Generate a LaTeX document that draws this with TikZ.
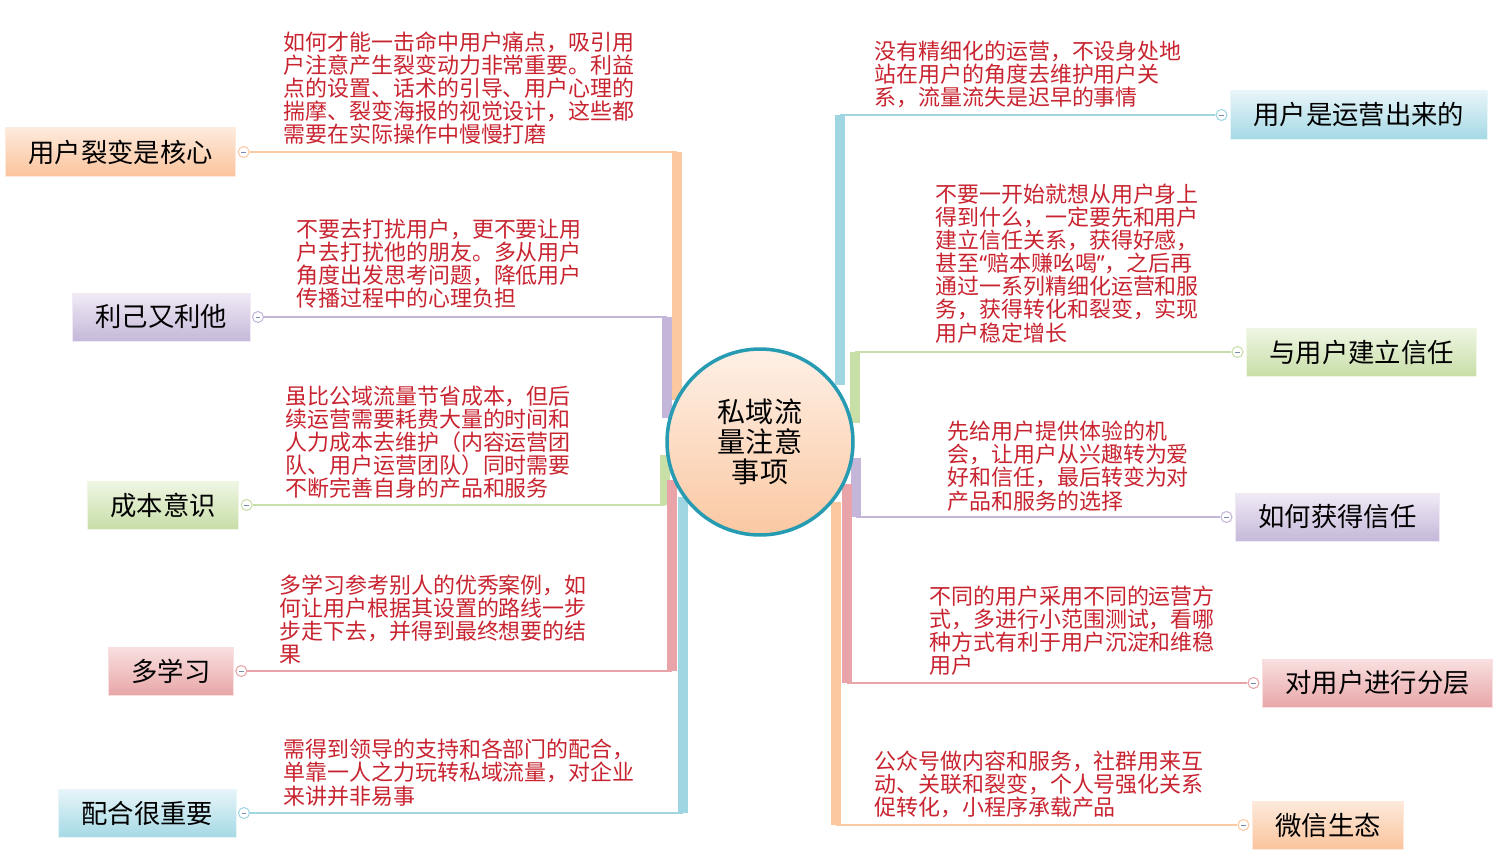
\documentclass[tikz,border=0pt]{standalone}
\usepackage{fontspec}
\setmainfont{Noto Sans CJK SC}
\newfontfamily\quotefont{Noto Sans}
\usetikzlibrary{positioning}
\definecolor{MapRed}{RGB}{200,36,48}
\definecolor{MapTeal}{RGB}{38,155,178}
\definecolor{FoldGray}{RGB}{120,140,170}
\definecolor{HubTop}{RGB}{254,240,230}
\definecolor{HubBot}{RGB}{251,200,162}
% branch colours: bar, box top, box bottom
\definecolor{OrangeBar}{RGB}{252,200,160}
\definecolor{OrangeTop}{RGB}{253,234,220}
\definecolor{OrangeBot}{RGB}{251,196,156}
\definecolor{PurpleBar}{RGB}{196,182,216}
\definecolor{PurpleTop}{RGB}{240,234,245}
\definecolor{PurpleBot}{RGB}{198,184,218}
\definecolor{GreenBar}{RGB}{200,223,168}
\definecolor{GreenTop}{RGB}{239,246,228}
\definecolor{GreenBot}{RGB}{200,222,168}
\definecolor{PinkBar}{RGB}{232,164,168}
\definecolor{PinkTop}{RGB}{249,224,224}
\definecolor{PinkBot}{RGB}{232,166,168}
\definecolor{BlueBar}{RGB}{160,214,226}
\definecolor{BlueTop}{RGB}{232,245,249}
\definecolor{BlueBot}{RGB}{165,217,229}
\tikzset{
  topic/.style={anchor=west,minimum height=0.96cm,inner xsep=0.46cm,inner ysep=0pt,
    top color=#1Top,bottom color=#1Bot,draw=#1Top,line width=0.4pt,
    font=\fontsize{15}{15}\selectfont},
  note/.style={anchor=north west,inner sep=0pt,align=left,text=MapRed,
    font=\fontsize{12.5}{13.1}\selectfont},
  fold/.style={circle,draw=#1,fill=white,line width=0.6pt,minimum size=0.22cm,inner sep=0pt,
    path picture={\draw[FoldGray,line width=0.5pt]
      ([xshift=-0.045cm]path picture bounding box.center) --
      ([xshift=0.045cm]path picture bounding box.center);}},
  bar/.style={draw=#1,line width=0.2cm},
  twig/.style={draw=#1,line width=0.05cm},
  hub/.style={circle,minimum size=3.72cm,draw=MapTeal,line width=2pt,
    top color=HubTop,bottom color=HubBot,align=center,
    font=\fontsize{16}{17.2}\selectfont}
}
\begin{document}
\begin{tikzpicture}[x=0.02cm,y=-0.02cm]
  \useasboundingbox (0,0) rectangle (1506,864);
  % left topics
  \node[topic=Orange] (l1) at (5,152) {用户裂变是核心};
  \node[topic=Purple] (l2) at (72,317) {利己又利他};
  \node[topic=Green] (l3) at (87,505) {成本意识};
  \node[topic=Pink] (l4) at (108,671) {多学习};
  \node[topic=Blue] (l5) at (58,813) {配合很重要};
  \node[fold=OrangeBar,right=0.03cm of l1] (l1f) {};
  \node[fold=PurpleBar,right=0.03cm of l2] (l2f) {};
  \node[fold=GreenBar,right=0.03cm of l3] (l3f) {};
  \node[fold=PinkBar,right=0.03cm of l4] (l4f) {};
  \node[fold=BlueBar,right=0.03cm of l5] (l5f) {};
  % right topics
  \node[topic=Blue] (r1) at (1230,115) {用户是运营出来的};
  \node[topic=Green] (r2) at (1246,352) {与用户建立信任};
  \node[topic=Purple] (r3) at (1235,517) {如何获得信任};
  \node[topic=Pink] (r4) at (1262,683) {对用户进行分层};
  \node[topic=Orange] (r5) at (1252,825) {微信生态};
  \node[fold=BlueBar,left=0.05cm of r1] (r1f) {};
  \node[fold=GreenBar,left=0.05cm of r2] (r2f) {};
  \node[fold=PurpleBar,left=0.05cm of r3] (r3f) {};
  \node[fold=PinkBar,left=0.05cm of r4] (r4f) {};
  \node[fold=OrangeBar,left=0.05cm of r5] (r5f) {};
  % branch roots
  \coordinate (l1b) at (677,400);
  \coordinate (l2b) at (667,418);
  \coordinate (l3b) at (665,455);
  \coordinate (l4b) at (672,480);
  \coordinate (l5b) at (683,497);
  \coordinate (r1b) at (840,385);
  \coordinate (r2b) at (855,423);
  \coordinate (r3b) at (856,458);
  \coordinate (r4b) at (847,484);
  \coordinate (r5b) at (836,502);
  \foreach \b/\c in {l1/Orange,l2/Purple,l3/Green,l4/Pink,l5/Blue,
                     r1/Blue,r2/Green,r3/Purple,r4/Pink,r5/Orange}{
    \draw[bar=\c Bar] (\b b) -- (\b b |- \b f);
    \draw[twig=\c Bar] (\b b |- \b f) -- (\b f);
  }
  % centre
  \node[hub] (hub) at (760,442) {私域流\\量注意\\事项};
  % notes, left
  \node[note] (n1) at (283,31) {如何才能一击命中用户痛点，吸引用\\户注意产生裂变动力非常重要。利益\\点的设置、话术的引导、用户心理的\\揣摩、裂变海报的视觉设计，这些都\\需要在实际操作中慢慢打磨};
  \node[note] (n2) at (296,219) {不要去打扰用户，更不要让用\\户去打扰他的朋友。多从用户\\角度出发思考问题，降低用户\\传播过程中的心理负担};
  \node[note] (n3) at (285,386) {虽比公域流量节省成本，但后\\续运营需要耗费大量的时间和\\人力成本去维护（内容运营团\\队、用户运营团队）同时需要\\不断完善自身的产品和服务};
  \node[note] (n4) at (279,574) {多学习参考别人的优秀案例，如\\何让用户根据其设置的路线一步\\步走下去，并得到最终想要的结\\果};
  \node[note] (n5) at (283,739) {需得到领导的支持和各部门的配合，\\单靠一人之力玩转私域流量，对企业\\来讲并非易事};
  % notes, right
  \node[note] (m1) at (874,41) {没有精细化的运营，不设身处地\\站在用户的角度去维护用户关\\系，流量流失是迟早的事情};
  \node[note] (m2) at (935,184) {不要一开始就想从用户身上\\得到什么，一定要先和用户\\建立信任关系，获得好感，\\甚至{\quotefont “}赔本赚吆喝{\quotefont ”}，之后再\\通过一系列精细化运营和服\\务，获得转化和裂变，实现\\用户稳定增长};
  \node[note] (m3) at (947,421) {先给用户提供体验的机\\会，让用户从兴趣转为爱\\好和信任，最后转变为对\\产品和服务的选择};
  \node[note] (m4) at (929,586) {不同的用户采用不同的运营方\\式，多进行小范围测试，看哪\\种方式有利于用户沉淀和维稳\\用户};
  \node[note] (m5) at (874,751) {公众号做内容和服务，社群用来互\\动、关联和裂变，个人号强化关系\\促转化，小程序承载产品};
\end{tikzpicture}
\end{document}
